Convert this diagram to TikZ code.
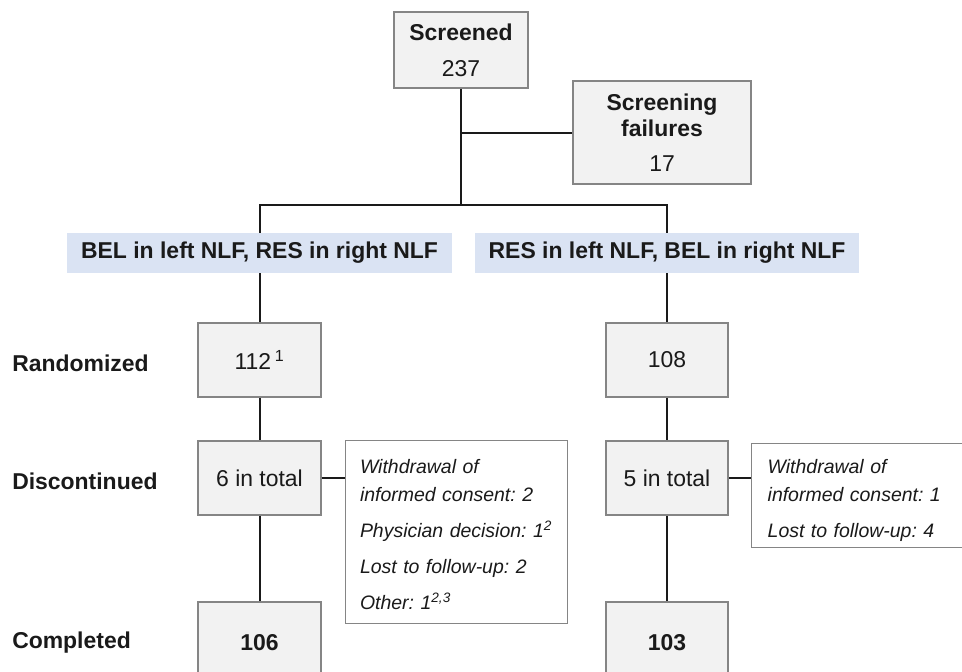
\documentclass[tikz,border=0pt]{standalone}
\usepackage{fontspec}
\setmainfont{Liberation Sans}

\definecolor{boxfill}{HTML}{F2F2F2}
\definecolor{boxline}{HTML}{858585}
\definecolor{armfill}{HTML}{DAE3F3}
\definecolor{ink}{HTML}{1A1A1A}

\begin{document}
\frenchspacing
\begin{tikzpicture}[x=0.75pt, y=-0.75pt,
    every node/.style={text=ink, font=\fontsize{17.2}{20}\selectfont},
    link/.style={ink, line width=1.5pt},
    countbox/.style={draw=boxline, line width=1.3pt, fill=boxfill, minimum width=92pt, minimum height=55.5pt, inner sep=0pt},
    notebox/.style={draw=boxline, line width=1pt, fill=white, anchor=north west, align=left, text width=150pt, inner sep=0pt, inner xsep=12pt, font=\itshape\fontsize{14.6}{21}\selectfont},
    armlabel/.style={fill=armfill, minimum height=30pt, inner sep=0pt, font=\bfseries\fontsize{17.2}{20}\selectfont},
    rowlabel/.style={anchor=west, inner sep=0pt, font=\bfseries\fontsize{17.2}{20}\selectfont}]
  \clip (0, 0) rectangle (962, 671);

  \node[countbox, minimum width=101pt, minimum height=57pt, align=center] (scr) at (461, 50)
    {\textbf{Screened}\\[7pt]237};
  \node[countbox, minimum width=133.5pt, minimum height=77pt, align=center] (fail) at (662, 132.5)
    {\textbf{Screening}\\\textbf{failures}\\[6pt]17};
  \coordinate (split) at (461, 205);

  \node[armlabel, minimum width=289pt] (armA) at (259.5, 253) {BEL in left NLF, RES in right NLF};
  \node[armlabel, minimum width=288pt] (armB) at (667, 253) {RES in left NLF, BEL in right NLF};

  \node[rowlabel] (lrand) at (12, 363) {Randomized};
  \node[rowlabel] (ldisc) at (12, 481) {Discontinued};
  \node[rowlabel] (lcomp) at (12, 643) {Completed};

  \node[countbox] (randA) at (259.5, 360) {112\,\textsuperscript{1}};
  \node[countbox] (randB) at (667, 360) {108};
  \node[countbox] (discA) at (259.5, 478) {6 in total};
  \node[countbox] (discB) at (667, 478) {5 in total};
  \node[countbox, minimum height=61.5pt, font=\bfseries\fontsize{17.2}{20}\selectfont] (compA) at (259.5, 643) {106};
  \node[countbox, minimum height=61.5pt, font=\bfseries\fontsize{17.2}{20}\selectfont] (compB) at (667, 643) {103};

  \node[notebox, text width=145pt, inner xsep=10.75pt, minimum height=137pt] (noteA) at (345, 440)
    {\rule{0pt}{15pt}Withdrawal of\\informed consent: 2\\[6pt]
     Physician decision: 1\textsuperscript{2}\\[6pt]
     Lost to follow-up: 2\\[6pt]
     Other: 1\textsuperscript{2,3}};
  \node[notebox, minimum height=78pt] (noteB) at (751, 443)
    {\rule{0pt}{18pt}Withdrawal of\\informed consent: 1\\[6pt]
     Lost to follow-up: 4};

  \draw[link] (scr.south) -- (split);
  \draw[link] (fail.west) -- (fail.west -| split);
  \draw[link] (armA.north) |- (split) -| (armB.north);

  \draw[link] (armA.south) -- (randA.north);
  \draw[link] (randA.south) -- (discA.north);
  \draw[link] (discA.south) -- (compA.north);
  \draw[link] (discA.east) -- (discA.east -| noteA.west);

  \draw[link] (armB.south) -- (randB.north);
  \draw[link] (randB.south) -- (discB.north);
  \draw[link] (discB.south) -- (compB.north);
  \draw[link] (discB.east) -- (discB.east -| noteB.west);
\end{tikzpicture}
\end{document}
